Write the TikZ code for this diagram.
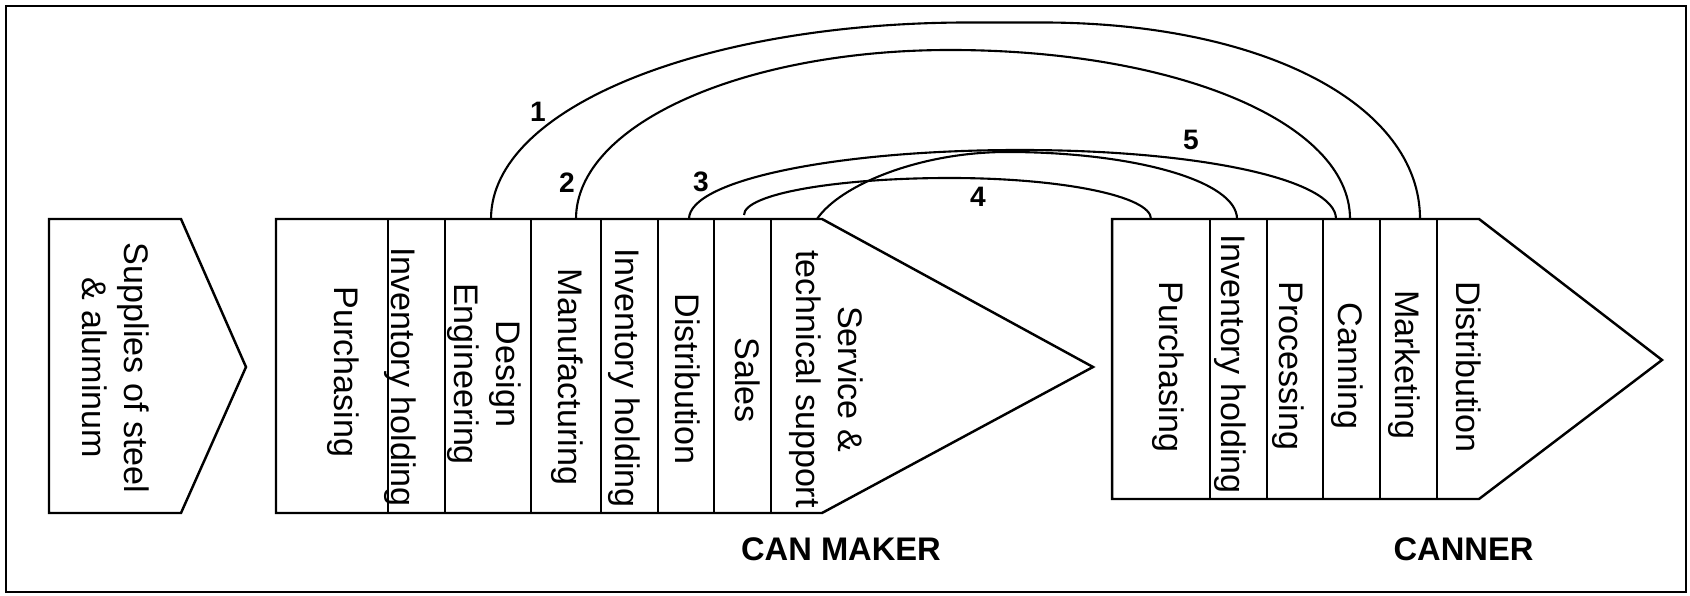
\documentclass[tikz,border=0pt]{standalone}
\usepackage{fontspec}
\setmainfont{Liberation Sans}

\begin{document}
\begin{tikzpicture}[line width=0.7pt,
        lbl/.style={rotate=-90, align=center, inner sep=0pt, font={\fontsize{9.7}{11.9}\selectfont}},
        num/.style={inner sep=0pt, font={\fontsize{8}{9.6}\selectfont\bfseries}},
        tag/.style={inner sep=0pt, font={\fontsize{9.3}{11}\selectfont\bfseries}},
        link/.style={line width=0.6pt}]
        \useasboundingbox (0,0) rectangle (16.9,5.95);

        % 바깥 테두리
        \draw (0.06,0.03) rectangle (16.86,5.89);

        % 공급자 화살표
        \draw (0.49,0.82) -- (0.49,3.76) -- (1.81,3.76) -- (2.46,2.28) -- (1.81,0.82) -- cycle;
        \node[lbl] (sup) at (1.155,2.27) {Supplies of steel\\\& aluminum};

        % 캔 제조사 가치사슬
        \draw (2.76,0.82) -- (2.76,3.76) -- (8.22,3.76) -- (10.93,2.28) -- (8.22,0.82) -- cycle;
        \draw (3.88,0.82) -- (3.88,3.76);
        \draw (4.45,0.82) -- (4.45,3.76);
        \draw (5.31,0.82) -- (5.31,3.76);
        \draw (6.01,0.82) -- (6.01,3.76);
        \draw (6.58,0.82) -- (6.58,3.76);
        \draw (7.14,0.82) -- (7.14,3.76);
        \draw (7.71,0.82) -- (7.71,3.76);
        \node[lbl] (mPur) at (3.43,2.23) {Purchasing};
        \node[lbl] (mInv) at (4.00,2.18) {Inventory holding};
        \node[lbl] (mDes) at (4.845,2.21) {Design\\Engineering};
        \node[lbl] (mMan) at (5.67,2.18) {Manufacturing};
        \node[lbl] (mInv2) at (6.24,2.17) {Inventory holding};
        \node[lbl] (mDis) at (6.88,2.16) {Distribution};
        \node[lbl] (mSal) at (7.48,2.15) {Sales};
        \node[lbl] (mSvc) at (8.265,2.16) {Service \&\\technical support};
        \node[tag] (maker) at (8.41,0.455) {CAN MAKER};

        % 캐너 가치사슬
        \draw (11.12,0.96) -- (11.12,3.76) -- (14.79,3.76) -- (16.62,2.35) -- (14.79,0.96) -- cycle;
        \draw (12.10,0.96) -- (12.10,3.76);
        \draw (12.67,0.96) -- (12.67,3.76);
        \draw (13.23,0.96) -- (13.23,3.76);
        \draw (13.80,0.96) -- (13.80,3.76);
        \draw (14.37,0.96) -- (14.37,3.76);
        \node[lbl] (cPur) at (11.68,2.28) {Purchasing};
        \node[lbl] (cInv) at (12.30,2.31) {Inventory holding};
        \node[lbl] (cPro) at (12.88,2.29) {Processing};
        \node[lbl] (cCan) at (13.47,2.29) {Canning};
        \node[lbl] (cMkt) at (14.045,2.30) {Marketing};
        \node[lbl] (cDis) at (14.69,2.28) {Distribution};
        \node[tag] (canner) at (14.635,0.455) {CANNER};

        % 연결선 끝점과 꼭대기
        \coordinate (fDes) at (4.91,3.76);
        \coordinate (fMan) at (5.76,3.76);
        \coordinate (fDis) at (6.89,3.76);
        \coordinate (fSal) at (7.44,3.80);
        \coordinate (fSvc) at (8.17,3.76);
        \coordinate (gPur) at (11.51,3.76);
        \coordinate (gInv) at (12.37,3.76);
        \coordinate (gCan) at (13.36,3.76);
        \coordinate (gCan2) at (13.50,3.76);
        \coordinate (gMkt) at (14.20,3.76);
        \coordinate (p1a) at (9.69,5.725);
        \coordinate (p1b) at (10.42,5.725);
        \coordinate (p2) at (9.50,5.45);
        \coordinate (p3) at (10.20,4.45);
        \coordinate (p4) at (9.50,4.17);
        \coordinate (p5) at (10.07,4.43);

        % 연결 곡선
        \draw[link] (fDes) .. controls +(0,1.12) and +(-2.64,0) .. (p1a) -- (p1b) .. controls +(2.2,0) and +(0,1.15) .. (gMkt);
        \draw[link] (fMan) .. controls +(0,0.95) and +(-2.06,0) .. (p2) .. controls +(2.25,0) and +(0,0.97) .. (gCan2);
        \draw[link] (fDis) .. controls +(0,0.39) and +(-1.83,0) .. (p3) .. controls +(1.78,0) and +(0,0.40) .. (gCan);
        \draw[link] (fSal) .. controls +(0,0.21) and +(-1.14,0) .. (p4) .. controls +(1.11,0) and +(0,0.23) .. (gPur);
        \draw[link] (fSvc) .. controls +(0.23,0.34) and +(-0.87,0) .. (p5) .. controls +(1.27,0) and +(0,0.38) .. (gInv);

        % 번호
        \node[num] (n1) at (5.38,4.83) {1};
        \node[num] (n2) at (5.67,4.12) {2};
        \node[num] (n3) at (7.01,4.13) {3};
        \node[num] (n4) at (9.78,3.98) {4};
        \node[num] (n5) at (11.91,4.55) {5};
    \end{tikzpicture}
\end{document}
